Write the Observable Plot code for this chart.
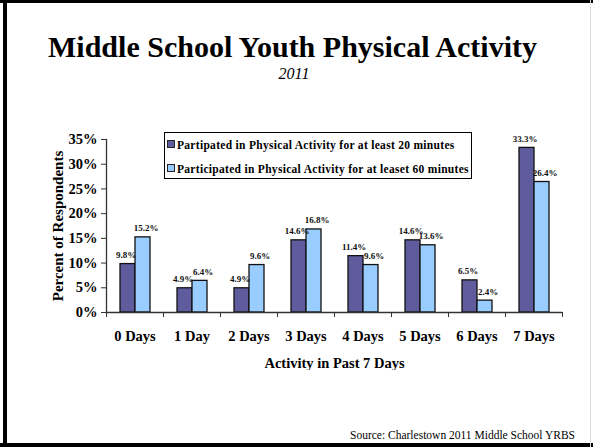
<!DOCTYPE html>
<html>
<head>
<meta charset="utf-8">
<script src="https://cdn.jsdelivr.net/npm/d3@7"></script>
<script src="https://cdn.jsdelivr.net/npm/@observablehq/plot@0.6"></script>
<style>
  html, body { margin: 0; padding: 0; background: #fff; }
  #page { position: relative; width: 593px; height: 447px; overflow: hidden; background: #fff;
          font-family: "Liberation Serif", "Times New Roman", serif; color: #000; }
  .edge { position: absolute; background: #000; }
  #title { position: absolute; left: 0; width: 585px; top: 32px; text-align: center;
           font-size: 30px; line-height: 30px; font-weight: bold; }
  #subtitle { position: absolute; left: 0; width: 588px; top: 66px; text-align: center;
              font-size: 16px; line-height: 16px; font-style: italic; }
  #chart { position: absolute; left: 0; top: 120px; }
  #chart svg text { font-weight: bold; }
  #legend { position: absolute; left: 164px; top: 132px; width: 306px; height: 45px;
            border: 1.5px solid #000; background: #fff; }
  .row { position: absolute; left: 2px; font-family: "Liberation Serif", "Times New Roman", serif;
         font-size: 11.5px; line-height: 12px; font-weight: bold;
         letter-spacing: 0.3px; white-space: nowrap; }
  .sw { display: inline-block; width: 6px; height: 6px; border: 1px solid #222; margin-right: 2px;
        vertical-align: 1px; }
  #source { position: absolute; right: 18px; top: 430px; font-size: 11.5px; line-height: 11.5px; }
</style>
</head>
<body>
<div id="page">
  <div class="edge" style="left:0;top:0;width:593px;height:3px;"></div>
  <div class="edge" style="left:3px;top:0;width:4px;height:447px;"></div>
  <div class="edge" style="left:0;top:443px;width:593px;height:4px;"></div>
  <div class="edge" style="left:590px;top:0;width:1px;height:447px;background:#ddd;"></div>
  <div id="title">Middle School Youth Physical Activity</div>
  <div id="subtitle">2011</div>
  <div id="chart"></div>
  <div id="legend"></div>
  <div id="source">Source: Charlestown 2011 Middle School YRBS</div>
</div>
<script>
const days = ["0 Days", "1 Day", "2 Days", "3 Days", "4 Days", "5 Days", "6 Days", "7 Days"];
const series = [
  "Partipated in Physical Activity for at least 20 minutes",
  "Participated in Physical Activity for at leaset 60 minutes"
];
const min20 = [9.8, 4.9, 4.9, 14.6, 11.4, 14.6, 6.5, 33.3];
const min60 = [15.2, 6.4, 9.6, 16.8, 9.6, 13.6, 2.4, 26.4];
const yTicks = [0, 5, 10, 15, 20, 25, 30, 35];
const colors = ["#5f5c9e", "#99ccff"];

const data = days.flatMap((d, i) => [
  {day: d, series: series[0], value: min20[i]},
  {day: d, series: series[1], value: min60[i]}
]);

const chart = Plot.plot({
  width: 593,
  height: 250,
  marginLeft: 106,
  marginRight: 31,
  marginTop: 19,
  marginBottom: 58,
  style: {fontFamily: "'Liberation Serif', 'Times New Roman', serif", background: "transparent", color: "#000"},
  fx: {domain: days, padding: 0},
  x: {domain: series, paddingInner: 0, paddingOuter: 0.84, axis: null},
  y: {domain: [0, 35]},
  color: {domain: series, range: colors},
  marks: [
    Plot.barY(data, {fx: "day", x: "series", y: "value", fill: "series", stroke: "#111", strokeWidth: 1.3}),
    Plot.text(data.filter(d => d.series === series[0]),
              {fx: "day", x: "series", y: "value", text: d => d.value.toFixed(1) + "%",
               dy: -9, dx: -2, fontSize: 9, fill: "#111"}),
    Plot.text(data.filter(d => d.series === series[1]),
              {fx: "day", x: "series", y: "value", text: d => d.value.toFixed(1) + "%",
               dy: -9, dx: 3, fontSize: 9, fill: "#111"}),
    Plot.ruleY([0], {stroke: "#333", strokeWidth: 1.3}),
    Plot.frame({anchor: "left", facetAnchor: "left", stroke: "#333", strokeWidth: 1.3}),
    Plot.axisY({ticks: yTicks, tickFormat: d => d + "%", tickSize: 5, tickPadding: 4,
                fontSize: 14.5, label: null, stroke: "#333"}),
    Plot.axisY({ticks: [], label: "Percent of Respondents", labelAnchor: "center",
                labelArrow: "none", labelOffset: 54, fontSize: 15}),
    Plot.axisFx({anchor: "bottom", tickSize: 0, tickPadding: 18, fontSize: 14.5,
                 label: "Activity in Past 7 Days", labelAnchor: "center", labelOffset: 55}),
    Plot.axisFx({anchor: "bottom", text: null, label: null, tickSize: 5, dx: -28.5, stroke: "#333"}),
    Plot.axisFx({anchor: "bottom", text: null, label: null, tickSize: 5, dx: 28.5, stroke: "#333"})
  ]
});
document.getElementById("chart").appendChild(chart);

const legend = document.getElementById("legend");
series.forEach((s, i) => {
  const row = document.createElement("div");
  row.className = "row";
  row.style.top = (6 + i * 24) + "px";
  const sw = document.createElement("span");
  sw.className = "sw";
  sw.style.background = colors[i];
  row.appendChild(sw);
  row.appendChild(document.createTextNode(s));
  legend.appendChild(row);
});
</script>
</body>
</html>
